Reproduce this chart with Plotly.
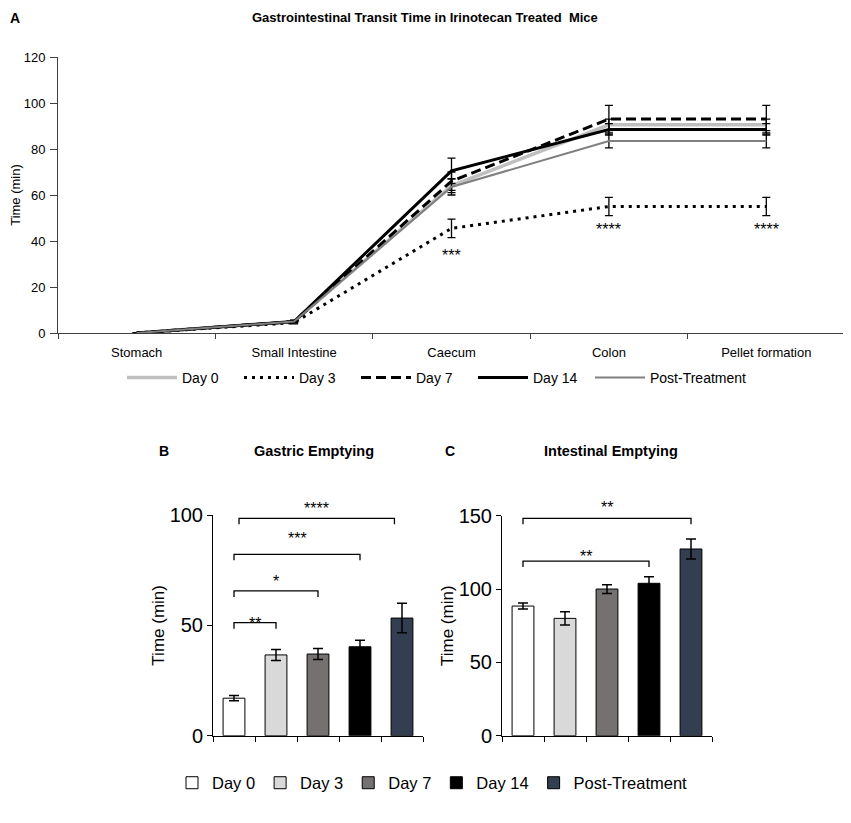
import plotly.graph_objects as go

# ---------------- data ----------------
sites = ["Stomach", "Small Intestine", "Caecum", "Colon", "Pellet formation"]
groups = ["Day 0", "Day 3", "Day 7", "Day 14", "Post-Treatment"]

transit_day0 = [0, 5, 64, 90.5, 90.5]
transit_day3 = [0, 4.5, 45.5, 55, 55]
transit_day7 = [0, 5, 66, 93, 93]
transit_day14 = [0, 5, 70.5, 88.5, 88.5]
transit_post = [0, 5, 63.5, 83.5, 83.5]

err_day0 = [0, 0.5, 3, 2.5, 2.5]
err_day3 = [0, 0.5, 4, 4, 4]
err_day7 = [0, 0.5, 4, 6, 6]
err_day14 = [0, 0.5, 5.5, 2.5, 2.5]
err_post = [0, 0.5, 3.5, 3, 3]

transit_sig_sites = ["Caecum", "Colon", "Pellet formation"]
transit_sig_labels = ["***", "****", "****"]
transit_sig_y = [36, 47, 47]

gastric_mean = [17, 36.6, 37, 40.3, 53.3]
gastric_err = [1.2, 2.5, 2.5, 3, 6.7]
# (from, to, bracket height, label, label height)
gastric_brackets = [(0, 1, 51.2, "**", 53.0), (0, 2, 65.6, "*", 72.3),
                    (0, 3, 82.2, "***", 91.5), (0.12, 3.82, 98.5, "****", 105.4)]

intestinal_mean = [88.4, 80, 100, 103.9, 127.3]
intestinal_err = [2, 4.5, 3, 4.5, 6.8]
intestinal_brackets = [(0, 3, 119, "**", 125.3), (0, 4, 148.2, "**", 158.7)]

bar_colors = ["#ffffff", "#d9d9d9", "#767171", "#000000", "#333f50"]
line_styles = [
    dict(color="#bfbfbf", width=3.5, dash="solid"),
    dict(color="#000000", width=3, dash="3px,5px"),
    dict(color="#000000", width=3, dash="10px,5px"),
    dict(color="#000000", width=3, dash="solid"),
    dict(color="#7f7f7f", width=2, dash="solid"),
]

FONT = "Liberation Sans, Arial, sans-serif"
PAGE_OFF = 8            # page body margin
W, H = 851 - PAGE_OFF, 823 - PAGE_OFF

def px_x(p):
    return (p - PAGE_OFF) / W

def px_y(p):
    return 1 - (p - PAGE_OFF) / H

# axis pixel geometry (screen coordinates)
TOP_X = (58, 845); TOP_Y = (333, 57)
B_X = (213, 423); B_Y = (735.7, 515)
C_X = (502, 712); C_Y = (735.7, 515.7)
B_RANGE = 100; C_RANGE = 150

fig = go.Figure()

series = [transit_day0, transit_day3, transit_day7, transit_day14, transit_post]
errs = [err_day0, err_day3, err_day7, err_day14, err_post]
for name, vals, e, ls in zip(groups, series, errs, line_styles):
    fig.add_trace(go.Scatter(
        x=sites, y=vals, name=name, mode="lines", line=ls,
        error_y=dict(type="data", array=e, visible=True, color="#000000",
                     thickness=1.3, width=4),
        xaxis="x", yaxis="y", legend="legend", cliponaxis=False,
    ))
# empty spacer entry so the last legend label is not clipped
fig.add_trace(go.Scatter(
    x=[None], y=[None], name=" ", mode="lines",
    line=dict(width=0, color="rgba(0,0,0,0)"), hoverinfo="skip",
    xaxis="x", yaxis="y", legend="legend",
))

xb = list(range(5))
for i, g in enumerate(groups):
    fig.add_trace(go.Bar(
        x=[xb[i]], y=[gastric_mean[i]], name=g, width=0.52,
        marker=dict(color=bar_colors[i], line=dict(color="#000000", width=1)),
        error_y=dict(type="data", array=[gastric_err[i]], color="#000000",
                     thickness=1.5, width=5),
        xaxis="x2", yaxis="y2", legend="legend2", showlegend=True,
    ))
    fig.add_trace(go.Bar(
        x=[xb[i]], y=[intestinal_mean[i]], name=g, width=0.52,
        marker=dict(color=bar_colors[i], line=dict(color="#000000", width=1)),
        error_y=dict(type="data", array=[intestinal_err[i]], color="#000000",
                     thickness=1.5, width=5),
        xaxis="x3", yaxis="y3", legend="legend2", showlegend=False,
    ))

shapes = []
annotations = []

def add_brackets(brackets, xref, yref, drop, ppu):
    for x0, x1, yv, lab, ylab in brackets:
        shapes.append(dict(
            type="path", xref=xref, yref=yref,
            path=f"M {x0} {yv - drop} L {x0} {yv} L {x1} {yv} L {x1} {yv - drop}",
            line=dict(color="#000000", width=1.3),
        ))
        annotations.append(dict(
            x=(x0 + x1) / 2, y=yv, xref=xref, yref=yref, text=lab,
            showarrow=False, yanchor="middle", yshift=(ylab - yv) * ppu - 5,
            font=dict(family=FONT, size=16, color="#000000"),
        ))

add_brackets(gastric_brackets, "x2", "y2", 2.7, (B_Y[0] - B_Y[1]) / B_RANGE)
add_brackets(intestinal_brackets, "x3", "y3", 4.0, (C_Y[0] - C_Y[1]) / C_RANGE)

for s, lab, yv in zip(transit_sig_sites, transit_sig_labels, transit_sig_y):
    annotations.append(dict(
        x=s, y=yv, xref="x", yref="y", text=lab, showarrow=False,
        yanchor="middle", yshift=-5, font=dict(family=FONT, size=16, color="#000000"),
    ))

panel_font = dict(family=FONT, size=14, color="#000000")
annotations.append(dict(
    x=0, y=1, xref="paper", yref="paper", text="<b>A</b>", showarrow=False,
    xanchor="left", yanchor="top", font=panel_font,
))
for text, x, y, f, anc in [
    ("<b>Gastrointestinal Transit Time in Irinotecan Treated  Mice</b>", 425, 17,
     dict(family=FONT, size=13, color="#000000"), "center"),
    ("<b>B</b>", 157, 451, panel_font, "left"),
    ("<b>Gastric Emptying</b>", 314, 451, dict(family=FONT, size=14.5, color="#000000"), "center"),
    ("<b>C</b>", 443, 451, panel_font, "left"),
    ("<b>Intestinal Emptying</b>", 611, 451, dict(family=FONT, size=14.5, color="#000000"), "center"),
]:
    annotations.append(dict(
        x=px_x(x), y=px_y(y), xref="paper", yref="paper", text=text,
        showarrow=False, xanchor=anc, yanchor="middle", font=f,
    ))

axis_common = dict(showgrid=False, zeroline=False, showline=True,
                   linewidth=1, ticks="outside", automargin=False)
top_axis = dict(linecolor="#404040", tickcolor="#404040", **axis_common)
bot_axis = dict(linecolor="#000000", tickcolor="#000000", ticklen=5, **axis_common)

fig.update_layout(
    width=W, height=H, margin=dict(l=0, r=0, t=0, b=0, autoexpand=False),
    paper_bgcolor="#ffffff", plot_bgcolor="#ffffff",
    font=dict(family=FONT, color="#000000"),
    barmode="overlay",
    shapes=shapes, annotations=annotations,
    xaxis=dict(domain=[px_x(TOP_X[0]), px_x(TOP_X[1])], type="category",
               tickson="boundaries", range=[-0.5, 4.5], ticklen=5,
               ticklabelstandoff=7,
               tickfont=dict(size=13), anchor="y", **top_axis),
    yaxis=dict(domain=[px_y(TOP_Y[0]), px_y(TOP_Y[1])], range=[0, 120], dtick=20,
               tickfont=dict(size=13), anchor="x", ticklen=7, ticklabelstandoff=2,
               title=dict(text="Time (min)", font=dict(size=13), standoff=3),
               **top_axis),
    xaxis2=dict(domain=[px_x(B_X[0]), px_x(B_X[1])], range=[-0.5, 4.5],
                tickvals=[-0.5, 0.5, 1.5, 2.5, 3.5, 4.5], showticklabels=False,
                anchor="y2", **bot_axis),
    yaxis2=dict(domain=[px_y(B_Y[0]), px_y(B_Y[1])], range=[0, B_RANGE],
                tickvals=[0, 50, 100], tickfont=dict(size=20), anchor="x2",
                title=dict(text="Time (min)", font=dict(size=17), standoff=0),
                **bot_axis),
    xaxis3=dict(domain=[px_x(C_X[0]), px_x(C_X[1])], range=[-0.5, 4.5],
                tickvals=[-0.5, 0.5, 1.5, 2.5, 3.5, 4.5], showticklabels=False,
                anchor="y3", **bot_axis),
    yaxis3=dict(domain=[px_y(C_Y[0]), px_y(C_Y[1])], range=[0, C_RANGE],
                tickvals=[0, 50, 100, 150], tickfont=dict(size=20), anchor="x3",
                title=dict(text="Time (min)", font=dict(size=17), standoff=0),
                **bot_axis),
    legend=dict(orientation="h", x=px_x(122), y=px_y(378), xanchor="left",
                yanchor="middle", font=dict(size=14), entrywidth=52,
                entrywidthmode="pixels", bgcolor="rgba(0,0,0,0)",
                itemwidth=50, tracegroupgap=0),
    legend2=dict(orientation="h", x=px_x(172), y=px_y(783), xanchor="left",
                 yanchor="middle", font=dict(size=16.5), bgcolor="rgba(0,0,0,0)",
                 itemwidth=30),
)

fig.write_html("out.html")
